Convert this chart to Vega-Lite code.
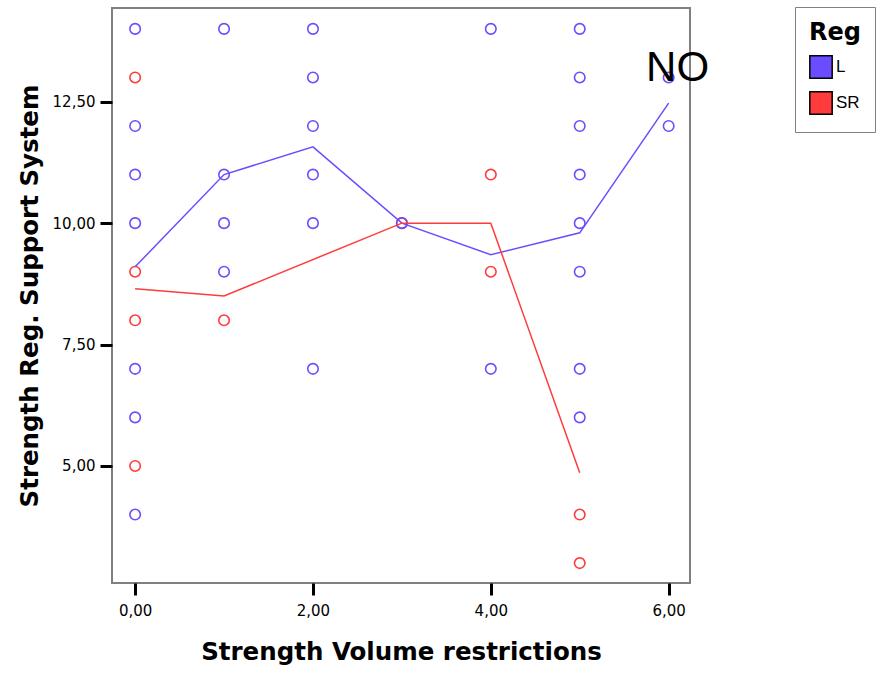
{
  "$schema": "https://vega.github.io/schema/vega-lite/v6.json",
  "width": 578,
  "height": 575,
  "autosize": {"type": "none"},
  "padding": {"left": 112, "top": 8, "right": 190, "bottom": 94},
  "background": "white",
  "config": {
    "view": {"stroke": "#808080", "strokeWidth": 2},
    "font": "DejaVu Sans"
  },
  "datasets": {
    "pts": [
      {"x": 0, "y": 14, "Reg": "L"}, {"x": 0, "y": 12, "Reg": "L"}, {"x": 0, "y": 11, "Reg": "L"}, {"x": 0, "y": 10, "Reg": "L"}, {"x": 0, "y": 7, "Reg": "L"}, {"x": 0, "y": 6, "Reg": "L"}, {"x": 0, "y": 4, "Reg": "L"},
      {"x": 0, "y": 13, "Reg": "SR"}, {"x": 0, "y": 9, "Reg": "SR"}, {"x": 0, "y": 8, "Reg": "SR"}, {"x": 0, "y": 5, "Reg": "SR"},
      {"x": 1, "y": 14, "Reg": "L"}, {"x": 1, "y": 11, "Reg": "L"}, {"x": 1, "y": 10, "Reg": "L"}, {"x": 1, "y": 9, "Reg": "L"},
      {"x": 1, "y": 8, "Reg": "SR"},
      {"x": 2, "y": 14, "Reg": "L"}, {"x": 2, "y": 13, "Reg": "L"}, {"x": 2, "y": 12, "Reg": "L"}, {"x": 2, "y": 11, "Reg": "L"}, {"x": 2, "y": 10, "Reg": "L"}, {"x": 2, "y": 7, "Reg": "L"},
      {"x": 3, "y": 10, "Reg": "SR"}, {"x": 3, "y": 10, "Reg": "L"},
      {"x": 4, "y": 14, "Reg": "L"}, {"x": 4, "y": 7, "Reg": "L"},
      {"x": 4, "y": 11, "Reg": "SR"}, {"x": 4, "y": 9, "Reg": "SR"},
      {"x": 5, "y": 14, "Reg": "L"}, {"x": 5, "y": 13, "Reg": "L"}, {"x": 5, "y": 12, "Reg": "L"}, {"x": 5, "y": 11, "Reg": "L"}, {"x": 5, "y": 10, "Reg": "L"}, {"x": 5, "y": 9, "Reg": "L"}, {"x": 5, "y": 7, "Reg": "L"}, {"x": 5, "y": 6, "Reg": "L"},
      {"x": 5, "y": 4, "Reg": "SR"}, {"x": 5, "y": 3, "Reg": "SR"},
      {"x": 6, "y": 13, "Reg": "L"}, {"x": 6, "y": 12, "Reg": "L"}
    ],
    "lines": [
      {"x": 0, "y": 9.1, "Reg": "L"}, {"x": 1, "y": 11.0, "Reg": "L"}, {"x": 2, "y": 11.57, "Reg": "L"}, {"x": 3, "y": 10.0, "Reg": "L"}, {"x": 4, "y": 9.35, "Reg": "L"}, {"x": 5, "y": 9.8, "Reg": "L"}, {"x": 6, "y": 12.47, "Reg": "L"},
      {"x": 0, "y": 8.65, "Reg": "SR"}, {"x": 1, "y": 8.5, "Reg": "SR"}, {"x": 3, "y": 10.0, "Reg": "SR"}, {"x": 4, "y": 10.0, "Reg": "SR"}, {"x": 5, "y": 4.86, "Reg": "SR"}
    ],
    "note": [{"x": 6.1, "y": 13.2, "label": "NO"}],
    "none": []
  },
  "layer": [
    {
      "data": {"name": "none"},
      "mark": {"type": "square", "filled": true, "opacity": 1, "strokeWidth": 1.5},
      "encoding": {
        "x": {"field": "x", "type": "quantitative"},
        "y": {"field": "y", "type": "quantitative"},
        "fill": {
          "field": "Reg", "type": "nominal",
          "scale": {"domain": ["L", "SR"], "range": ["#6b4dff", "#ff3b3b"]},
          "legend": {
            "orient": "none", "legendX": 683, "legendY": -1,
            "title": "Reg", "titleFontSize": 24, "titleFontWeight": "bold", "titleColor": "black",
            "symbolType": "square", "symbolSize": 500, "symbolStrokeWidth": 1.5, "symbolOpacity": 1,
            "labelFontSize": 17, "labelColor": "black", "labelFont": "Liberation Sans",
            "rowPadding": 6, "labelOffset": 3,
            "strokeColor": "#808080", "padding": 14, "titlePadding": 10
          }
        },
        "stroke": {
          "field": "Reg", "type": "nominal",
          "scale": {"domain": ["L", "SR"], "range": ["black", "black"]},
          "legend": {
            "orient": "none", "legendX": 683, "legendY": -1,
            "title": "Reg", "titleFontSize": 24, "titleFontWeight": "bold", "titleColor": "black",
            "symbolType": "square", "symbolSize": 500, "symbolStrokeWidth": 1.5, "symbolOpacity": 1,
            "labelFontSize": 17, "labelColor": "black", "labelFont": "Liberation Sans",
            "rowPadding": 6, "labelOffset": 3,
            "strokeColor": "#808080", "padding": 14, "titlePadding": 10
          }
        }
      }
    },
    {
      "data": {"name": "pts"},
      "mark": {"type": "point", "shape": "circle", "filled": false, "size": 110, "strokeWidth": 1.6, "opacity": 1},
      "encoding": {
        "x": {
          "field": "x", "type": "quantitative",
          "scale": {"domain": [-0.26, 6.24], "nice": false, "zero": false},
          "axis": {
            "values": [0, 2, 4, 6],
            "labelExpr": "replace(format(datum.value, '.2f'), '.', ',')",
            "domain": false, "grid": false,
            "tickColor": "black", "tickWidth": 3, "tickSize": 12,
            "labelFontSize": 15, "labelColor": "black", "labelPadding": 8,
            "title": "Strength Volume restrictions",
            "titleFontSize": 24.5, "titleFontWeight": "bold", "titleColor": "black", "titlePadding": 22
          }
        },
        "y": {
          "field": "y", "type": "quantitative",
          "scale": {"domain": [2.59, 14.43], "nice": false, "zero": false},
          "axis": {
            "values": [5, 7.5, 10, 12.5],
            "labelExpr": "replace(format(datum.value, '.2f'), '.', ',')",
            "domain": false, "grid": false,
            "tickColor": "black", "tickWidth": 3, "tickSize": 12,
            "labelFontSize": 15, "labelColor": "black", "labelPadding": 5,
            "title": "Strength Reg. Support System",
            "titleFontSize": 24.5, "titleFontWeight": "bold", "titleColor": "black", "titlePadding": 10
          }
        },
        "color": {
          "field": "Reg", "type": "nominal",
          "scale": {"domain": ["L", "SR"], "range": ["#6b4dff", "#ff3b3b"]},
          "legend": null
        }
      }
    },
    {
      "data": {"name": "lines"},
      "mark": {"type": "line", "strokeWidth": 1.5},
      "encoding": {
        "x": {"field": "x", "type": "quantitative"},
        "y": {"field": "y", "type": "quantitative"},
        "color": {"field": "Reg", "type": "nominal", "legend": null}
      }
    },
    {
      "data": {"name": "note"},
      "mark": {"type": "text", "font": "Liberation Sans", "fontSize": 42, "color": "black", "align": "center", "baseline": "middle"},
      "encoding": {
        "x": {"field": "x", "type": "quantitative"},
        "y": {"field": "y", "type": "quantitative"},
        "text": {"field": "label"}
      }
    }
  ]
}
